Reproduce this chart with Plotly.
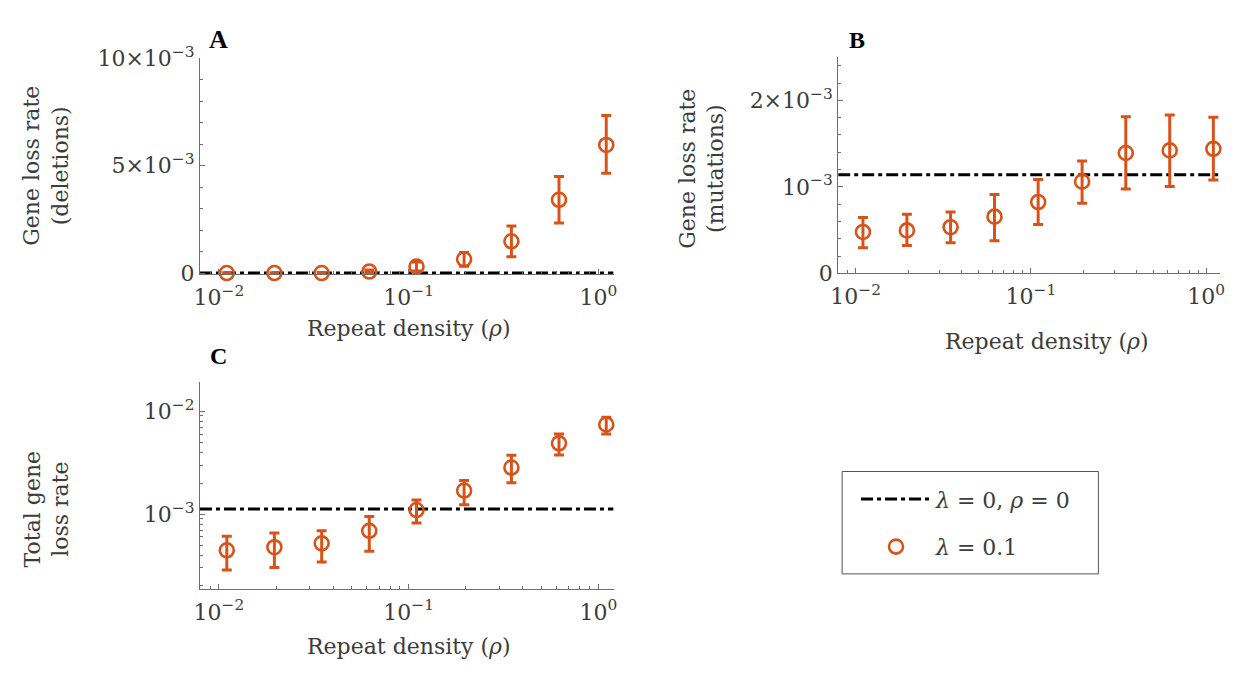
import plotly.graph_objects as go

W, H = 1236, 673

# ---------------- data ----------------
rho = [0.011, 0.0196, 0.0348, 0.062, 0.11, 0.196, 0.348, 0.62, 1.1]

del_rate = [0.0, 0.0, 0.0, 0.07e-3, 0.30e-3, 0.64e-3, 1.48e-3, 3.41e-3, 5.96e-3]
del_hi = [0.02e-3, 0.02e-3, 0.03e-3, 0.14e-3, 0.52e-3, 0.96e-3, 2.19e-3, 4.49e-3, 7.33e-3]
del_lo = [0.0, 0.0, 0.0, 0.01e-3, 0.10e-3, 0.32e-3, 0.76e-3, 2.33e-3, 4.64e-3]

mut_rate = [0.479e-3, 0.497e-3, 0.534e-3, 0.656e-3, 0.825e-3, 1.061e-3, 1.392e-3, 1.422e-3, 1.440e-3]
mut_hi = [0.645e-3, 0.685e-3, 0.711e-3, 0.913e-3, 1.087e-3, 1.300e-3, 1.812e-3, 1.831e-3, 1.805e-3]
mut_lo = [0.298e-3, 0.324e-3, 0.354e-3, 0.379e-3, 0.564e-3, 0.810e-3, 0.976e-3, 1.006e-3, 1.079e-3]

tot_rate = [4.45e-4, 4.77e-4, 5.2e-4, 6.89e-4, 1.096e-3, 1.695e-3, 2.84e-3, 4.88e-3, 7.44e-3]
tot_hi = [6.1e-4, 6.56e-4, 6.89e-4, 9.46e-4, 1.374e-3, 2.12e-3, 3.73e-3, 6.02e-3, 8.75e-3]
tot_lo = [2.86e-4, 3.02e-4, 3.43e-4, 4.36e-4, 8.2e-4, 1.235e-3, 2.02e-3, 3.76e-3, 6.03e-3]

base_del = 0.0
base_mut = 1.14e-3
base_tot = 1.12e-3

x_tickvals = [0.01, 0.1, 1]
x_ticktext = ["10<sup>\u22122</sup>", "10<sup>\u22121</sup>", "10<sup>0</sup>"]

# ---------------- style ----------------
ORANGE = "#D95319"
AX = "#6e6e6e"
TXT = "#3c3c3c"
FONT = "DejaVu Serif"
FS = 22
XR = [-2.10, 0.08]


def px_x(p):
    return p / W


def px_y(p):
    return 1 - p / H


fig = go.Figure()


def add_panel(xa, ya, y, hi, lo, base, show):
    fig.add_trace(go.Scatter(
        x=[10 ** XR[0], 10 ** XR[1]], y=[base, base], mode="lines",
        line=dict(color="black", width=3, dash="12px,4px,4px,4px"),
        xaxis=xa, yaxis=ya, showlegend=show, cliponaxis=False, legendgroup="g1",
        name="<i>\u03bb</i> = 0, <i>\u03c1</i> = 0", legendrank=1))
    fig.add_trace(go.Scatter(
        x=rho, y=y, mode="markers",
        marker=dict(symbol="circle-open", size=14, color=ORANGE, line=dict(width=2.6, color=ORANGE)),
        error_y=dict(type="data", array=[h - v for h, v in zip(hi, y)],
                     arrayminus=[v - l for v, l in zip(y, lo)],
                     color=ORANGE, thickness=3, width=5),
        xaxis=xa, yaxis=ya, showlegend=show, cliponaxis=False, legendgroup="g2",
        name="<i>\u03bb</i> = 0.1", legendrank=2))


add_panel("x", "y", del_rate, del_hi, del_lo, base_del, True)
add_panel("x2", "y2", mut_rate, mut_hi, mut_lo, base_mut, False)
add_panel("x3", "y3", tot_rate, tot_hi, tot_lo, base_tot, False)

xcommon = dict(type="log", range=XR, tickvals=x_tickvals, ticktext=x_ticktext,
               ticks="inside", ticklen=5, tickcolor=AX, showline=True, linecolor=AX,
               linewidth=1, showgrid=False, zeroline=False, mirror=False,
               ticklabelstandoff=3,
               tickfont=dict(family=FONT, size=FS, color=TXT),
               minor=dict(ticks="inside", ticklen=3, tickcolor=AX, dtick="D1", showgrid=False))
ycommon = dict(ticks="inside", ticklen=5, tickcolor=AX, showline=True, linecolor=AX,
               linewidth=1, showgrid=False, zeroline=False,
               tickfont=dict(family=FONT, size=FS, color=TXT))

fig.update_layout(
    width=W, height=H, margin=dict(l=0, r=0, t=0, b=0),
    paper_bgcolor="white", plot_bgcolor="white",
    xaxis=dict(domain=[px_x(194), px_x(612)], anchor="y", **xcommon),
    yaxis=dict(domain=[px_y(270), px_y(44)], anchor="x", range=[-0.06e-3, 10e-3],
               tickvals=[0, 5e-3, 10e-3],
               ticktext=["0", "5\u00d710<sup>\u22123</sup>", "10\u00d710<sup>\u22123</sup>"],
               minor=dict(ticks="inside", ticklen=3, tickcolor=AX, dtick=1e-3),
               **ycommon),
    xaxis2=dict(domain=[px_x(839), px_x(1225)], anchor="y2", **xcommon),
    yaxis2=dict(domain=[px_y(269), px_y(43)], anchor="x2", range=[0, 2.5e-3],
                tickvals=[0, 1e-3, 2e-3],
                ticktext=["0", "10<sup>\u22123</sup>", "2\u00d710<sup>\u22123</sup>"],
                minor=dict(ticks="inside", ticklen=3, tickcolor=AX, dtick=0.2e-3),
                **ycommon),
    xaxis3=dict(domain=[px_x(194), px_x(612)], anchor="y3", **xcommon),
    yaxis3=dict(domain=[px_y(599), px_y(383)], anchor="x3", type="log", range=[-3.73, -1.72],
                tickvals=[1e-3, 1e-2],
                ticktext=["10<sup>\u22123</sup>", "10<sup>\u22122</sup>"],
                minor=dict(ticks="inside", ticklen=3, tickcolor=AX, dtick="D1"),
                **ycommon),
    legend=dict(x=px_x(857), y=px_y(483), xanchor="left", yanchor="top",
                borderwidth=0, bgcolor="rgba(0,0,0,0)",
                font=dict(family=FONT, size=FS, color=TXT),
                itemwidth=70, tracegroupgap=16),
    shapes=[dict(type="rect", xref="paper", yref="paper",
                 x0=px_x(843), x1=px_x(1102), y0=px_y(583), y1=px_y(476),
                 line=dict(color="#555555", width=1), fillcolor="rgba(0,0,0,0)", layer="below")],
)

annots = [
    ("<b>A</b>", 213, 25, 0, 26),
    ("<b>B</b>", 858, 25, 0, 24),
    ("<b>C</b>", 213, 355, 0, 24),
    ("Gene loss rate<br>(deletions)", 39, 157, -90, FS),
    ("Gene loss rate<br>(mutations)", 701, 160, -90, FS),
    ("Total gene<br>loss rate", 39, 515, -90, FS),
    ("Repeat density (<i>\u03c1</i>)", 405, 327, 0, FS),
    ("Repeat density (<i>\u03c1</i>)", 1050, 340, 0, FS),
    ("Repeat density (<i>\u03c1</i>)", 405, 659, 0, FS),
]
for text, x, y, ang, fs in annots:
    fam = "Liberation Serif" if fs > FS else FONT
    fig.add_annotation(text=text, x=px_x(x), y=px_y(y), xref="paper", yref="paper",
                       showarrow=False, textangle=ang, xanchor="center", yanchor="middle",
                       font=dict(family=fam, size=fs, color="black" if fs > FS else TXT))

fig.write_html("out.html")
